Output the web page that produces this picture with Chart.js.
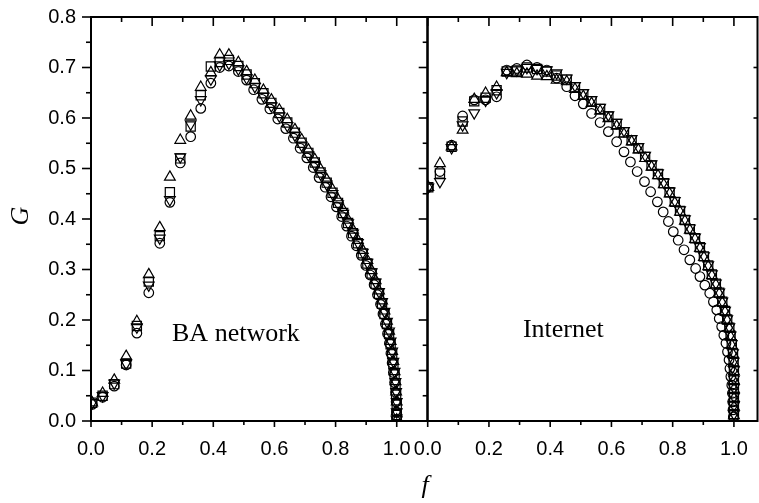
<!DOCTYPE html>
<html>
<head>
<meta charset="utf-8">
<script src="https://cdn.jsdelivr.net/npm/chart.js@4.4.1/dist/chart.umd.min.js"></script>
<style>
html, body { margin: 0; padding: 0; background: #fff; }
#wrap { position: relative; width: 759px; height: 503px; }
#wrap canvas { position: absolute; left: 0; top: 0; }
</style>
</head>
<body>
<div id="wrap">
<canvas id="baChart" width="759" height="503"></canvas>
<canvas id="netChart" width="759" height="503"></canvas>
</div>
<script>
// axis ticks
const xTickLabels = [0, 0.2, 0.4, 0.6, 0.8, 1.0];
const xTickMarks = [0, 0.1, 0.2, 0.3, 0.4, 0.5, 0.6, 0.7, 0.8, 0.9, 1.0];
const yTickLabels = [0, 0.1, 0.2, 0.3, 0.4, 0.5, 0.6, 0.7, 0.8];
const yTickMarks = [0, 0.05, 0.1, 0.15, 0.2, 0.25, 0.3, 0.35, 0.4, 0.45, 0.5, 0.55, 0.6, 0.65, 0.7, 0.75, 0.8];

// BA network panel
const baUpF = [0.004, 0.038, 0.076, 0.115, 0.150, 0.189, 0.225, 0.258, 0.292, 0.326, 0.359, 0.392, 0.421, 0.451, 0.482, 0.509,
  0.536, 0.564, 0.590, 0.616, 0.642, 0.667, 0.689, 0.711, 0.732, 0.751, 0.771, 0.790, 0.808, 0.825, 0.841, 0.857, 0.873, 0.889,
  0.904, 0.918, 0.931, 0.942, 0.952, 0.960, 0.968, 0.975, 0.980, 0.985, 0.989, 0.993, 0.996, 0.998, 1.0, 1.0, 1.0];
const baUpG = [0.036, 0.055, 0.081, 0.128, 0.197, 0.290, 0.383, 0.483, 0.556, 0.604, 0.661, 0.690, 0.725, 0.725, 0.710, 0.692,
  0.675, 0.655, 0.636, 0.616, 0.597, 0.577, 0.557, 0.537, 0.518, 0.498, 0.478, 0.458, 0.438, 0.418, 0.398, 0.378, 0.358, 0.338,
  0.318, 0.298, 0.278, 0.258, 0.238, 0.218, 0.198, 0.178, 0.158, 0.138, 0.118, 0.098, 0.078, 0.058, 0.038, 0.018, 0.002];
const baDownG = [0.036, 0.050, 0.075, 0.114, 0.186, 0.269, 0.362, 0.438, 0.523, 0.588, 0.636, 0.677, 0.705, 0.708, 0.697, 0.679,
  0.662, 0.643, 0.624, 0.604, 0.585, 0.566, 0.546, 0.527, 0.508, 0.489, 0.469, 0.450, 0.430, 0.411, 0.392, 0.372, 0.353, 0.334,
  0.314, 0.295, 0.275, 0.256, 0.236, 0.217, 0.197, 0.178, 0.158, 0.138, 0.118, 0.098, 0.078, 0.058, 0.038, 0.018, 0.002];
const baSquareG = [0.036, 0.050, 0.073, 0.114, 0.188, 0.276, 0.366, 0.453, 0.520, 0.583, 0.645, 0.702, 0.711, 0.715, 0.703, 0.686,
  0.669, 0.649, 0.630, 0.610, 0.591, 0.571, 0.551, 0.531, 0.512, 0.492, 0.472, 0.452, 0.432, 0.412, 0.392, 0.372, 0.352, 0.332,
  0.312, 0.292, 0.272, 0.252, 0.232, 0.212, 0.192, 0.172, 0.152, 0.132, 0.112, 0.092, 0.072, 0.052, 0.032, 0.012, 0.002];
const baCircleF = [0.004, 0.038, 0.076, 0.115, 0.150, 0.189, 0.225, 0.258, 0.292, 0.326, 0.359, 0.392, 0.421, 0.451, 0.482, 0.509,
  0.532, 0.559, 0.585, 0.611, 0.637, 0.662, 0.684, 0.706, 0.727, 0.746, 0.766, 0.785, 0.803, 0.820, 0.836, 0.852, 0.868, 0.884,
  0.899, 0.913, 0.926, 0.937, 0.947, 0.955, 0.963, 0.970, 0.976, 0.981, 0.985, 0.989, 0.993, 0.996, 0.998, 0.999, 1.0];
const baCircleG = [0.033, 0.047, 0.069, 0.111, 0.174, 0.254, 0.352, 0.433, 0.511, 0.563, 0.619, 0.669, 0.700, 0.703, 0.692, 0.675,
  0.656, 0.637, 0.618, 0.598, 0.579, 0.560, 0.540, 0.521, 0.502, 0.482, 0.463, 0.444, 0.424, 0.405, 0.386, 0.366, 0.347, 0.328,
  0.308, 0.289, 0.270, 0.250, 0.231, 0.212, 0.192, 0.173, 0.154, 0.134, 0.115, 0.096, 0.076, 0.057, 0.038, 0.018, 0.003];

// Internet panel
const netF = [0.002, 0.040, 0.078, 0.114, 0.152, 0.189, 0.225, 0.258, 0.291, 0.324, 0.357, 0.389, 0.421,
  0.454, 0.481, 0.508, 0.535, 0.563, 0.590, 0.617, 0.641, 0.666, 0.688, 0.710, 0.731, 0.752, 0.771, 0.790, 0.807,
  0.824, 0.840, 0.856, 0.873, 0.889, 0.902, 0.916, 0.928, 0.941, 0.952, 0.962, 0.971, 0.978, 0.985, 0.989, 0.993,
  0.997, 0.999, 1.0, 1.0, 1.0, 1.0, 1.0, 1.0];
const netDownG = [0.463, 0.474, 0.541, 0.586, 0.610, 0.635, 0.650, 0.690, 0.695, 0.700, 0.698, 0.695, 0.689,
  0.679, 0.664, 0.650, 0.636, 0.621, 0.606, 0.591, 0.575, 0.559, 0.543, 0.526, 0.509, 0.491, 0.473, 0.455, 0.436,
  0.418, 0.400, 0.382, 0.364, 0.345, 0.327, 0.309, 0.291, 0.273, 0.255, 0.237, 0.219, 0.202, 0.186, 0.170, 0.153,
  0.135, 0.118, 0.101, 0.083, 0.066, 0.048, 0.031, 0.014];
const netUpG = [0.463, 0.510, 0.543, 0.576, 0.637, 0.649, 0.661, 0.690, 0.688, 0.687, 0.683, 0.682, 0.675,
  0.672, 0.657, 0.643, 0.629, 0.614, 0.599, 0.584, 0.568, 0.553, 0.537, 0.520, 0.503, 0.486, 0.468, 0.450, 0.432,
  0.414, 0.396, 0.378, 0.360, 0.342, 0.324, 0.306, 0.288, 0.270, 0.252, 0.234, 0.216, 0.199, 0.183, 0.167, 0.150,
  0.132, 0.115, 0.098, 0.080, 0.063, 0.045, 0.028, 0.011];
const netSquareG = [0.463, 0.490, 0.543, 0.593, 0.633, 0.640, 0.655, 0.692, 0.694, 0.700, 0.697, 0.692, 0.684,
  0.676, 0.661, 0.647, 0.633, 0.618, 0.603, 0.588, 0.572, 0.556, 0.540, 0.523, 0.506, 0.489, 0.471, 0.453, 0.434,
  0.416, 0.398, 0.380, 0.362, 0.344, 0.326, 0.308, 0.290, 0.272, 0.254, 0.236, 0.218, 0.201, 0.185, 0.169, 0.152,
  0.134, 0.117, 0.100, 0.082, 0.065, 0.047, 0.030, 0.013];
const netCircleF = [0.002, 0.040, 0.078, 0.114, 0.152, 0.189, 0.225, 0.258, 0.291, 0.324, 0.357, 0.389, 0.421,
  0.454, 0.481, 0.508, 0.535, 0.563, 0.590, 0.617, 0.641, 0.662, 0.684, 0.708, 0.728, 0.750, 0.769, 0.786, 0.802,
  0.818, 0.837, 0.856, 0.875, 0.889, 0.905, 0.921, 0.933, 0.944, 0.952, 0.960, 0.967, 0.974, 0.979, 0.984, 0.987,
  0.990, 0.993, 0.995, 0.996, 0.997, 0.998];
const netCircleG = [0.463, 0.494, 0.546, 0.604, 0.636, 0.636, 0.642, 0.695, 0.698, 0.705, 0.700, 0.695, 0.679,
  0.662, 0.644, 0.628, 0.609, 0.591, 0.573, 0.553, 0.533, 0.513, 0.494, 0.474, 0.454, 0.434, 0.414, 0.395, 0.375,
  0.358, 0.339, 0.319, 0.302, 0.286, 0.269, 0.253, 0.236, 0.220, 0.203, 0.187, 0.170, 0.154, 0.137, 0.121, 0.104,
  0.088, 0.071, 0.055, 0.038, 0.022, 0.008];

function pts(fs, gs) {
  return fs.map((f, i) => ({ x: f, y: gs[i] }));
}

function series(fs, gs, style, rot, r) {
  return {
    data: pts(fs, gs),
    showLine: false,
    pointStyle: style,
    pointRotation: rot,
    pointRadius: r,
    pointHoverRadius: r,
    pointBorderColor: '#000',
    pointBackgroundColor: 'rgba(0,0,0,0)',
    pointBorderWidth: 1.2,
    clip: 0
  };
}

const nearStep = (v, step) => Math.abs(v / step - Math.round(v / step)) < 1e-6;

// frame + inward/outward tick marks, drawn from the scales
const frameTicks = {
  id: 'frameTicks',
  afterDraw(chart, args, opts) {
    const { ctx, chartArea: a, scales: { x, y } } = chart;
    const line = (x1, y1, x2, y2) => { ctx.beginPath(); ctx.moveTo(x1, y1); ctx.lineTo(x2, y2); ctx.stroke(); };
    ctx.save();
    ctx.strokeStyle = '#000';
    ctx.lineWidth = 1.6;
    xTickMarks.forEach(v => {
      const px = x.getPixelForValue(v);
      const major = nearStep(v, 0.2);
      line(px, a.bottom, px, a.bottom + (major ? 6 : 4));
      line(px, a.top, px, a.top + (major ? 9 : 5));
    });
    yTickMarks.forEach(v => {
      const py = y.getPixelForValue(v);
      const major = nearStep(v, 0.1);
      line(a.left, py, a.left - (major ? 9 : 5), py);
      if (opts.rightTicks && major) line(a.right, py, a.right - 4, py);
    });
    ctx.lineWidth = 2;
    ctx.strokeRect(a.left, a.top, a.right - a.left, a.bottom - a.top);
    ctx.restore();
  }
};

// panel names and axis titles
const notes = {
  id: 'notes',
  afterDraw(chart, args, opts) {
    const { ctx, scales: { x, y } } = chart;
    ctx.save();
    ctx.fillStyle = '#000';
    ctx.textBaseline = 'alphabetic';
    ctx.textAlign = 'left';
    ctx.font = '26px "Liberation Serif"';
    ctx.fillText(opts.name, x.getPixelForValue(opts.nameAt[0]), y.getPixelForValue(opts.nameAt[1]));
    if (opts.axisTitles) {
      ctx.font = 'italic 26px "Liberation Serif"';
      ctx.textAlign = 'center';
      ctx.textBaseline = 'middle';
      ctx.fillText('f', 425, 486);
      ctx.translate(21, 216);
      ctx.rotate(-Math.PI / 2);
      ctx.fillText('G', 0, 0);
    }
    ctx.restore();
  }
};

const tickFont = { family: 'Liberation Sans', size: 20 };

function makeChart(id, datasets, cfg) {
  return new Chart(document.getElementById(id), {
    type: 'scatter',
    data: { datasets: datasets },
    options: {
      responsive: false,
      animation: false,
      events: [],
      layout: { autoPadding: false, padding: { left: 0, top: 17, right: cfg.padRight, bottom: 0 } },
      plugins: {
        legend: { display: false },
        tooltip: { enabled: false },
        frameTicks: { rightTicks: cfg.rightTicks },
        notes: { name: cfg.name, nameAt: cfg.nameAt, axisTitles: cfg.axisTitles }
      },
      scales: {
        x: {
          type: 'linear',
          min: 0,
          max: cfg.xMax,
          // invisible tick marks only reserve the gap above the labels
          grid: { display: true, drawOnChartArea: false, drawTicks: true, tickLength: 16, tickColor: 'rgba(0,0,0,0)' },
          border: { display: false },
          afterBuildTicks: s => { s.ticks = xTickLabels.map(v => ({ value: v })); },
          afterFit: s => { s.height = 82; s.paddingLeft = 0; s.paddingRight = 0; },
          ticks: {
            padding: 0,
            color: '#000',
            font: tickFont,
            maxRotation: 0,
            autoSkip: false,
            callback: v => v.toFixed(1)
          }
        },
        y: {
          type: 'linear',
          min: 0,
          max: 0.8,
          grid: { display: false, drawTicks: false },
          border: { display: false },
          afterBuildTicks: s => { s.ticks = yTickLabels.map(v => ({ value: v })); },
          afterFit: s => { s.width = cfg.yWidth; s.paddingTop = 0; s.paddingBottom = 0; },
          ticks: {
            display: cfg.yLabels,
            padding: 15,
            color: '#000',
            font: tickFont,
            callback: v => v.toFixed(1)
          }
        }
      }
    },
    plugins: [frameTicks, notes]
  });
}

makeChart('baChart', [
  series(baCircleF, baCircleG, 'circle', 0, 4.8),
  series(baUpF, baSquareG, 'rect', 0, 6.5),
  series(baUpF, baUpG, 'triangle', 0, 6.2),
  series(baUpF, baDownG, 'triangle', 180, 6.2)
], {
  xMax: 1.1, padRight: 331.7, yWidth: 91, yLabels: true, rightTicks: false,
  name: 'BA network', nameAt: [0.265, 0.158], axisTitles: true
});

makeChart('netChart', [
  series(netCircleF, netCircleG, 'circle', 0, 4.8),
  series(netF, netSquareG, 'rect', 0, 6.5),
  series(netF, netUpG, 'triangle', 0, 6.2),
  series(netF, netDownG, 'triangle', 180, 6.2)
], {
  xMax: 1.077, padRight: 1.5, yWidth: 427.7, yLabels: false, rightTicks: true,
  name: 'Internet', nameAt: [0.311, 0.166], axisTitles: false
});
</script>
</body>
</html>
